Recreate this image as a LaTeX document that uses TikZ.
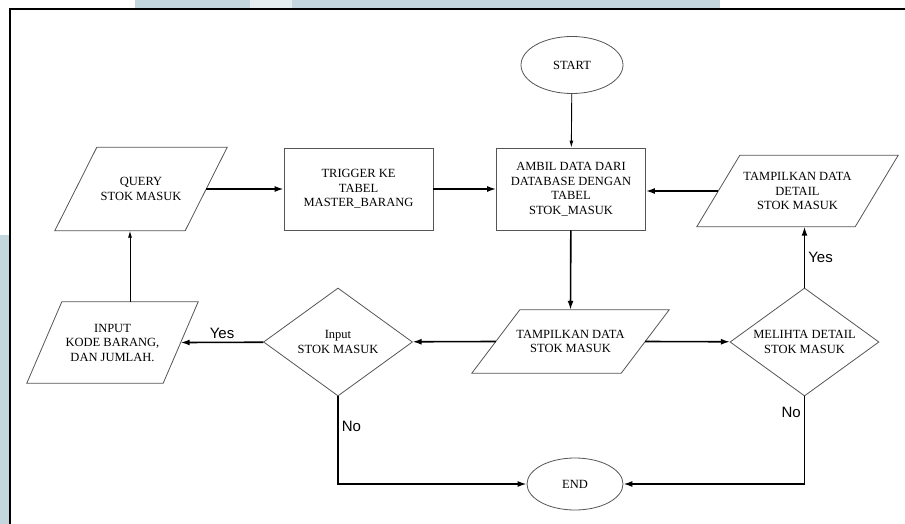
\documentclass[tikz,border=0pt]{standalone}
\usepackage{fontspec}
\setmainfont{Liberation Serif}
\newfontfamily\lblfont{Liberation Sans}
\usetikzlibrary{shapes.geometric,arrows.meta}

\definecolor{scanblue}{HTML}{C4D6DE}
\definecolor{edgegray}{HTML}{555555}

\tikzset{
	box/.style = {draw = edgegray, line width = 0.8pt, align = center, inner sep = 0pt,
		font = \fontsize{12.5}{14.5}\selectfont},
	proc/.style = {box, rectangle, minimum width = 149pt, minimum height = 82pt},
	io/.style = {align = center, inner sep = 0pt, font = \fontsize{12.5}{14.5}\selectfont},
	iodraw/.style = {draw = edgegray, line width = 0.8pt},
	decision/.style = {box, diamond, aspect = 1.38, minimum width = 149pt, minimum height = 108pt},
	term/.style = {box, ellipse},
	flow/.style = {-{Latex[length = 9pt, width = 6pt]}, line width = 1.6pt},
	thinflow/.style = {-{Latex[length = 7pt, width = 4pt]}, line width = 0.9pt},
	lbl/.style = {font = \lblfont\fontsize{15}{15}\selectfont, inner sep = 3pt}
}

% parallelogram round an io node: #1 name, #2 slant
\newcommand{\iobox}[2]{%
	\draw[iodraw] ([xshift = #2/2]#1.north west) -- ([xshift = #2/2]#1.north east)
		-- ([xshift = -#2/2]#1.south east) -- ([xshift = -#2/2]#1.south west) -- cycle;}

\begin{document}
\begin{tikzpicture}[x = 1pt, y = -1pt]
	\useasboundingbox (0, 0) rectangle (905, 524);
	% scanned page edge
	\fill[scanblue] (135, 0) rectangle (720, 8);
	\fill[scanblue!45] (250, 0) rectangle (292, 8);
	\fill[scanblue] (0, 235) rectangle (9, 524);
	\draw[line width = 2.5pt] (10, 530) -- (10, 9) -- (910, 9);
	
	% top row
	\node[term, minimum width = 102pt, minimum height = 57pt] (start) at (572, 65) {START};
	\node[proc] (ambil) at (571, 189) {AMBIL DATA DARI\\DATABASE DENGAN\\TABEL\\STOK\_MASUK};
	\node[proc] (trigger) at (358.5, 189) {TRIGGER KE\\TABEL\\MASTER\_BARANG};
	\node[io, minimum width = 130pt, minimum height = 83pt] (query) at (141, 189) {QUERY\\STOK MASUK};
	\node[io, minimum width = 158pt, minimum height = 71pt] (detail) at (797.5, 191) {TAMPILKAN DATA\\DETAIL\\STOK MASUK};
	\iobox{query}{42}
	\iobox{detail}{43}
	
	% middle row
	\node[io, minimum width = 149pt, minimum height = 63pt] (tampil) at (570.5, 341.5) {TAMPILKAN DATA\\STOK MASUK};
	\node[decision] (inputq) at (338, 342) {Input\\STOK MASUK};
	\node[decision] (lihat) at (804.5, 342) {MELIHTA DETAIL\\STOK MASUK};
	\node[io, minimum width = 136pt, minimum height = 81pt] (kode) at (112.5, 342.5) {INPUT\\KODE BARANG,\\DAN JUMLAH.};
	\iobox{tampil}{48}
	\iobox{kode}{35}
	
	\node[term, minimum width = 96pt, minimum height = 52pt] (end) at (575, 484) {END};
	
	% connectors
	\draw[thinflow] (start) -- (ambil);
	\draw[flow] (query.east) -- (trigger.west);
	\draw[flow] (trigger) -- (ambil);
	\draw[flow] (detail.west) -- (detail.west -| ambil.east);
	\draw[flow] (ambil) -- (tampil.north);
	\draw[flow] (tampil.west) -- (inputq);
	\draw[flow] (inputq) -- node[lbl, above] (yes1) {Yes} (kode.east);
	\draw[thinflow] ([xshift = 17.5pt]kode.north) -- ([xshift = 17.5pt]kode.north |- query.south);
	\draw[flow] (tampil.east) -- (lihat);
	\draw[flow] (lihat) -- node[lbl, right] (yes2) {Yes} (lihat |- detail.south);
	\draw[flow] (inputq.south) |- node[lbl, right, pos = 0.17] (no1) {No} (end);
	\draw[flow] (lihat.south) |- node[lbl, left, pos = 0.09] (no2) {No} (end);
\end{tikzpicture}
\end{document}
